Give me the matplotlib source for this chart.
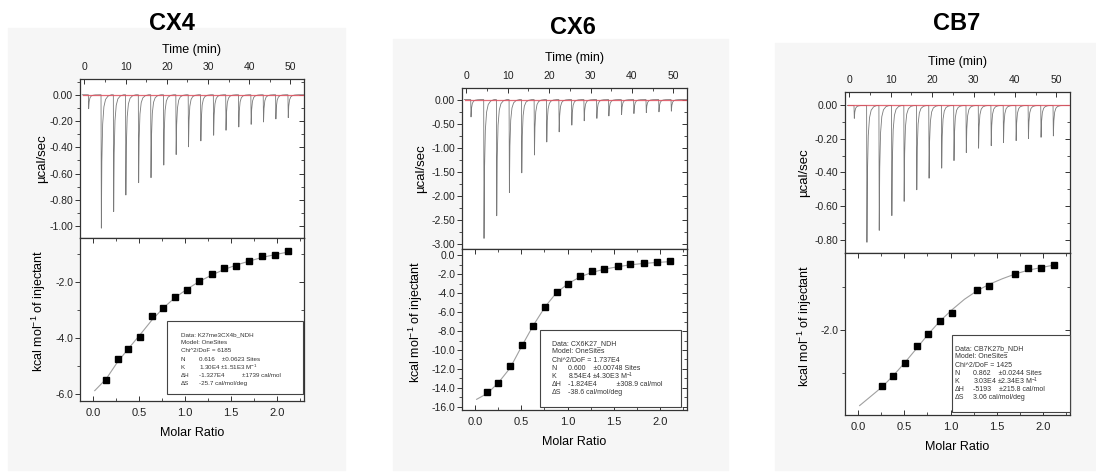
import matplotlib.pyplot as plt
from matplotlib.patches import Rectangle
from matplotlib.ticker import MultipleLocator, FormatStrFormatter

plt.rcParams["font.family"] = ["Liberation Sans", "DejaVu Sans"]
plt.rcParams["mathtext.default"] = "regular"

titles = ["CX4", "CX6", "CB7"]

# raw thermogram: injection times (min) and peak minima (ucal/sec)
cx4_inj_time = [0.97, 4.05, 7.04, 10.0, 13.1, 16.1, 19.2, 22.2, 25.2, 28.2,
                31.3, 34.3, 37.4, 40.4, 43.4, 46.4, 49.4]
cx4_peak = [-0.106, -1.015, -0.889, -0.763, -0.669, -0.631, -0.535, -0.455,
            -0.396, -0.351, -0.308, -0.270, -0.245, -0.225, -0.207, -0.184, -0.174]
cx6_inj_time = [1.05, 4.19, 7.26, 10.32, 13.31, 16.37, 19.35, 22.34, 25.40,
                28.39, 31.45, 34.35, 37.42, 40.40, 43.39, 46.45, 49.44]
cx6_peak = [-0.36, -2.88, -2.41, -1.93, -1.52, -1.15, -0.88, -0.67, -0.53,
            -0.44, -0.39, -0.34, -0.31, -0.29, -0.27, -0.255, -0.24]
cb7_inj_time = [1.12, 4.17, 7.14, 10.19, 13.16, 16.21, 19.18, 22.23, 25.2,
                28.17, 31.14, 34.19, 37.16, 40.21, 43.18, 46.23, 49.2]
cb7_peak = [-0.077, -0.816, -0.745, -0.657, -0.572, -0.503, -0.434, -0.374,
            -0.329, -0.281, -0.255, -0.240, -0.222, -0.210, -0.198, -0.190, -0.182]

# integrated heats (kcal/mol of injectant) vs molar ratio
cx4_ratio = [0.144, 0.267, 0.386, 0.513, 0.639, 0.765, 0.892, 1.025, 1.155,
             1.289, 1.422, 1.556, 1.697, 1.838, 1.978, 2.116]
cx4_heat = [-5.49, -4.75, -4.37, -3.96, -3.20, -2.92, -2.51, -2.26, -1.95,
            -1.70, -1.50, -1.42, -1.23, -1.06, -1.01, -0.90]
cx6_ratio = [0.133, 0.252, 0.378, 0.505, 0.631, 0.757, 0.883, 1.009, 1.139,
             1.268, 1.398, 1.542, 1.672, 1.823, 1.968, 2.101]
cx6_heat = [-14.48, -13.46, -11.69, -9.47, -7.42, -5.48, -3.85, -2.97, -2.15,
            -1.66, -1.45, -1.10, -0.92, -0.78, -0.74, -0.64]
cb7_ratio = [0.258, 0.378, 0.505, 0.636, 0.760, 0.891, 1.018, 1.287, 1.418,
             1.698, 1.840, 1.978, 2.120]
cb7_heat = [-3.30, -3.06, -2.76, -2.38, -2.08, -1.79, -1.59, -1.06, -0.98,
            -0.70, -0.56, -0.54, -0.48]

# one-site fit curves
cx4_fit_x = [0.02, 0.144, 0.267, 0.39, 0.51, 0.64, 0.77, 0.89, 1.02, 1.15,
             1.29, 1.42, 1.56, 1.70, 1.84, 1.98, 2.12]
cx4_fit_y = [-5.87, -5.45, -4.85, -4.35, -3.88, -3.35, -2.90, -2.55, -2.25,
             -1.98, -1.74, -1.55, -1.38, -1.24, -1.11, -1.01, -0.92]
cx6_fit_x = [0.018, 0.133, 0.25, 0.38, 0.505, 0.63, 0.76, 0.88, 1.01, 1.14,
             1.27, 1.40, 1.54, 1.67, 1.82, 1.97, 2.10]
cx6_fit_y = [-15.22, -14.6, -13.5, -11.9, -9.6, -7.4, -5.4, -3.95, -2.95,
             -2.25, -1.78, -1.45, -1.2, -1.0, -0.85, -0.74, -0.66]
cb7_fit_x = [0.018, 0.13, 0.258, 0.378, 0.505, 0.636, 0.76, 0.89, 1.018, 1.15,
             1.287, 1.418, 1.56, 1.698, 1.84, 1.978, 2.12]
cb7_fit_y = [-3.76, -3.56, -3.33, -3.07, -2.76, -2.42, -2.09, -1.78, -1.52,
             -1.28, -1.08, -0.93, -0.80, -0.69, -0.60, -0.54, -0.48]

cx4_info = ["Data: K27me3CX4b_NDH", "Model: OneSites", "Chi^2/DoF = 6185",
            ("N", "0.616    \u00b10.0623 Sites"), ("K", "1.30E4 \u00b11.51E3 M$^{-1}$"),
            ("\u0394H", "-1.327E4          \u00b11739 cal/mol"), ("\u0394S", "-25.7 cal/mol/deg")]
cx6_info = ["Data: CX6K27_NDH", "Model: OneSites", "Chi^2/DoF = 1.737E4",
            ("N", "0.600    \u00b10.00748 Sites"), ("K", "8.54E4 \u00b14.30E3 M$^{-1}$"),
            ("\u0394H", "-1.824E4          \u00b1308.9 cal/mol"), ("\u0394S", "-38.6 cal/mol/deg")]
cb7_info = ["Data: CB7K27b_NDH", "Model: OneSites", "Chi^2/DoF = 1425",
            ("N", "0.862    \u00b10.0244 Sites"), ("K", "3.03E4 \u00b12.34E3 M$^{-1}$"),
            ("\u0394H", "-5193    \u00b1215.8 cal/mol"), ("\u0394S", "3.06 cal/mol/deg")]

# shape of one injection spike (offset in min, fraction of peak depth)
spike_dt = [0.0, 0.08, 0.2, 0.4, 0.7, 1.1, 1.7, 2.5]
spike_frac = [0.0, 1.0, 0.5, 0.22, 0.09, 0.035, 0.01, 0.0]

W, H = 1096, 473
fig = plt.figure(figsize=(W / 100, H / 100), dpi=100)

# layout in pixels: (left, right, top, mid, bottom)
boxes = [(80, 304, 79, 238, 401), (462, 687, 88, 249, 410), (845, 1070, 92, 253, 415)]
backs = [(8, 345, 28, 470), (393, 728, 39, 470), (775, 1096, 43, 470)]
title_pos = [(172, 24), (573, 28), (957, 24)]

panels = [
    dict(t=cx4_inj_time, p=cx4_peak, r=cx4_ratio, h=cx4_heat, fx=cx4_fit_x, fy=cx4_fit_y,
         info=cx4_info, uy=(-1.09, 0.12), um=(0.2, 0.1), ly=(-6.24, -0.42), lm=(2, 1),
         ylx=(-0.143, -0.141), box=(0.387, 0.043, 0.994, 0.493), tx=(0.45, 0.533), fs=4.5),
    dict(t=cx6_inj_time, p=cx6_peak, r=cx6_ratio, h=cx6_heat, fx=cx6_fit_x, fy=cx6_fit_y,
         info=cx6_info, uy=(-3.10, 0.24), um=(0.5, 0.25), ly=(-16.35, 0.68), lm=(2, 1),
         ylx=(-0.156, -0.164), box=(0.348, 0.02, 0.975, 0.497), tx=(0.399, 0.471), fs=5),
    dict(t=cb7_inj_time, p=cb7_peak, r=cb7_ratio, h=cb7_heat, fx=cb7_fit_x, fy=cb7_fit_y,
         info=cb7_info, uy=(-0.88, 0.08), um=(0.2, 0.1), ly=(-3.98, -0.2), lm=(2, 1),
         ylx=(-0.153, -0.138), box=(0.477, 0.017, 1.0, 0.494), tx=(0.488, 0.569), fs=5),
]

edge = "#333333"


def style(ax, xmaj, xmin, ymaj, ymin, yfmt):
    for s in ax.spines.values():
        s.set_color(edge)
        s.set_linewidth(0.9)
    ax.xaxis.set_major_locator(MultipleLocator(xmaj))
    ax.xaxis.set_minor_locator(MultipleLocator(xmin))
    ax.yaxis.set_major_locator(MultipleLocator(ymaj))
    ax.yaxis.set_minor_locator(MultipleLocator(ymin))
    ax.yaxis.set_major_formatter(FormatStrFormatter(yfmt))
    ax.tick_params(axis="y", which="both", direction="out", colors=edge, labelsize=7.5,
                   pad=1.5, labelcolor="#222222")
    ax.tick_params(which="major", length=3.5, width=0.7)
    ax.tick_params(which="minor", length=2, width=0.6)
    sec = ax.secondary_yaxis("right")
    sec.yaxis.set_major_locator(MultipleLocator(ymaj))
    sec.yaxis.set_minor_locator(MultipleLocator(ymin))
    sec.tick_params(which="both", direction="in", labelright=False, colors=edge)
    sec.tick_params(which="major", length=3.5, width=0.7)
    sec.tick_params(which="minor", length=2, width=0.6)
    sec.spines["right"].set_visible(False)


for i, pn in enumerate(panels):
    x0, x1, y0, ym, y1 = boxes[i]
    bx0, bx1, by0, by1 = backs[i]
    fig.patches.append(Rectangle((bx0 / W, 1 - by1 / H), (bx1 - bx0) / W, (by1 - by0) / H,
                                 transform=fig.transFigure, color="#f6f6f6", zorder=-5))
    fig.text(title_pos[i][0] / W, 1 - title_pos[i][1] / H, titles[i], ha="center",
             va="center", fontsize=17, fontweight="bold")

    # raw thermogram
    ax = fig.add_axes([x0 / W, 1 - ym / H, (x1 - x0) / W, (ym - y0) / H])
    tt, yy = [-0.5], [0.0]
    for ti, pk in zip(pn["t"], pn["p"]):
        for dt, fr in zip(spike_dt, spike_frac):
            tt.append(ti + dt)
            yy.append(pk * fr)
    tt.append(53.5)
    yy.append(0.0)
    ax.plot(tt, yy, color="#7a7a7a", lw=0.6, zorder=2)
    ax.plot([-0.3, 53.3], [0, 0], color="#e0505e", lw=0.9, alpha=0.85, zorder=3)
    ax.set_xlim(-1.05, 53.3)
    ax.set_ylim(*pn["uy"])
    style(ax, 10, 5, pn["um"][0], pn["um"][1], "%.2f")
    ax.xaxis.tick_top()
    ax.tick_params(axis="x", which="both", direction="in", top=True, bottom=False,
                   labelsize=7.5, pad=5, colors=edge, labelcolor="#222222")
    ax.set_xlabel("Time (min)", fontsize=9)
    ax.xaxis.set_label_position("top")
    ax.xaxis.set_label_coords(0.5, 1.165)
    ax.set_ylabel("\u00b5cal/sec", fontsize=9.5)
    ax.yaxis.set_label_coords(pn["ylx"][0], 0.5)

    # integrated heats
    bx = fig.add_axes([x0 / W, 1 - y1 / H, (x1 - x0) / W, (y1 - ym) / H])
    bx.plot(pn["fx"], pn["fy"], color="#a0a0a0", lw=0.8, zorder=2)
    bx.plot(pn["r"], pn["h"], "s", color="black", ms=4, zorder=3)
    bx.set_xlim(-0.14, 2.29)
    bx.set_ylim(*pn["ly"])
    style(bx, 0.5, 0.25, pn["lm"][0], pn["lm"][1], "%.1f")
    bx.xaxis.set_major_formatter(FormatStrFormatter("%.1f"))
    bx.tick_params(axis="x", which="both", direction="in", top=True, bottom=True,
                   labelsize=8, pad=5, colors=edge, labelcolor="#222222")
    bx.set_xlabel("Molar Ratio", fontsize=9)
    bx.xaxis.set_label_coords(0.5, -0.16)
    bx.set_ylabel("kcal mol$^{-1}$ of injectant", fontsize=9)
    bx.yaxis.set_label_coords(pn["ylx"][1], 0.55)

    # fit results box
    fx0, fy0, fx1, fy1 = pn["box"]
    bx.add_patch(Rectangle((fx0, fy0), fx1 - fx0, fy1 - fy0, transform=bx.transAxes,
                           fill=True, facecolor="white", edgecolor="#444444", lw=0.8,
                           zorder=4, clip_on=False))
    line_h = 8.2 / (y1 - ym)
    ty = fy1 - 0.085
    for k, item in enumerate(pn["info"]):
        yk = ty - k * line_h
        if isinstance(item, tuple):
            bx.text(pn["tx"][0], yk, item[0], transform=bx.transAxes, fontsize=pn["fs"],
                    va="center", color="#333333", zorder=5)
            bx.text(pn["tx"][1], yk, item[1], transform=bx.transAxes, fontsize=pn["fs"],
                    va="center", color="#333333", zorder=5)
        else:
            bx.text(pn["tx"][0], yk, item, transform=bx.transAxes, fontsize=pn["fs"],
                    va="center", color="#333333", zorder=5)

fig.savefig("out.png", dpi=100)
